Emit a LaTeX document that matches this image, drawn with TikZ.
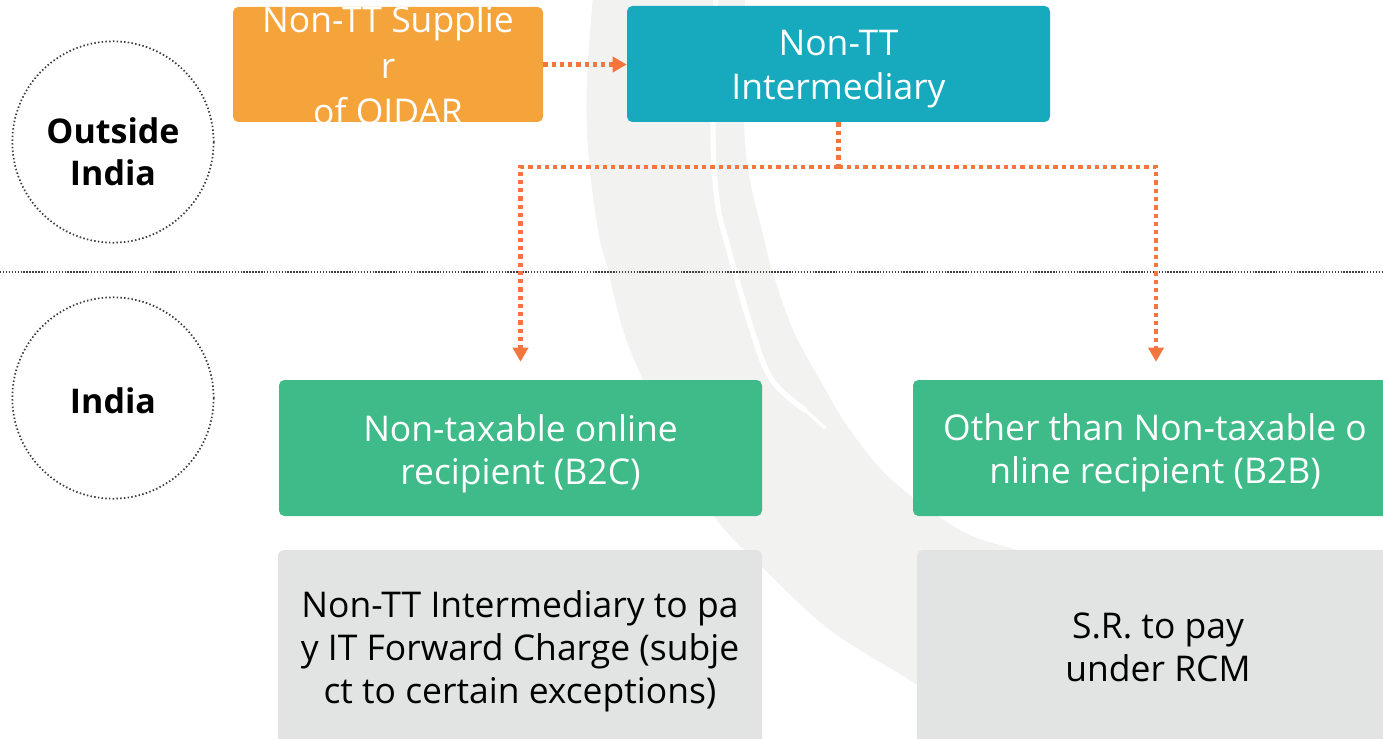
\documentclass[tikz,border=0pt]{standalone}
\usepackage{fontspec}
\setmainfont{Open Sans}
\usetikzlibrary{arrows.meta,calc,fit}

\definecolor{supplierorange}{HTML}{F4A43A}
\definecolor{interteal}{HTML}{17A9BE}
\definecolor{recipgreen}{HTML}{3FBB89}
\definecolor{notegray}{HTML}{E2E4E3}
\definecolor{flowline}{HTML}{F4763E}
\definecolor{swooshgray}{HTML}{F2F2F1}
\definecolor{ruledark}{HTML}{3C3C3C}

% centred block of lines whose baseline is the first line
\newcommand\stacklines[1]{\begin{tabular}[t]{@{}c@{}}#1\end{tabular}}

\begin{document}
\begin{tikzpicture}[x=0.75pt,y=-0.75pt,
  panel/.style={rectangle, rounded corners=4pt, inner sep=0pt, draw=none},
  paneltext/.style={inner sep=0pt, anchor=base, text=white,
    font=\fontsize{26.6pt}{32.6pt}\selectfont},
  notetext/.style={paneltext, text=black},
  region/.style={circle, minimum size=151pt, inner sep=0pt, draw=ruledark,
    line width=1.3pt, dash pattern=on 1.1pt off 1.7pt},
  regiontext/.style={inner sep=0pt, anchor=base, text=black,
    font=\fontsize{25.5pt}{32.25pt}\selectfont\bfseries},
  flow/.style={draw=flowline, line width=3.2pt, dash pattern=on 3.2pt off 3pt},
  flowtip/.style={-{Triangle[length=10.5pt,width=11.25pt]}, flowline}
]
\useasboundingbox (0,0) rectangle (1383,738);
\clip (0,0) rectangle (1383,738);

% light brush swoosh in the background
\fill[swooshgray]
  plot[smooth, tension=0.6] coordinates {(593,-5) (587,80) (588,150) (598,230)
    (608,270) (623,330) (643,380) (675,450) (717,520) (762,567) (830,630)
    (917,685) (1000,745)}
  -- (1300,745)
  -- plot[smooth, tension=0.6] coordinates {(1250,600) (1100,575) (1017,550)
    (960,530) (892,480) (850,430) (820,380) (793,330) (772,270) (762,230)
    (750,180) (744,120) (745,-5)}
  -- cycle;
\draw[white, line width=4pt, line cap=round]
  plot[smooth, tension=0.6] coordinates {(716,-5) (713,130) (717,200) (726,240)
    (752,330) (772,380) (805,410)};
\draw[white, line width=2.5pt, line cap=round] (805,410) -- (825,428);

% border between the two regions
\draw[line width=1.1pt, ruledark, dash pattern=on 1.1pt off 1.1pt] (0,272) -- (1383,272);

% region markers
\node[region] (outside) at (113,142) {};
\node[regiontext] (outside-text) at (113,143) {\stacklines{Outside\\India}};
\node[region] (india) at (113,398) {};
\node[regiontext] (india-text) at (113,413) {India};

% boxes
\node[panel, fill=supplierorange, fit={(233,7) (543,122)}] (supplier) {};
\node[panel, fill=interteal, fit={(627,6) (1050,122)}] (inter) {};
\node[panel, fill=recipgreen, fit={(279,380) (762,516)}] (b2c) {};
\node[panel, fill=recipgreen, fit={(913,380) (1396,516)}] (b2b) {};
\node[panel, fill=notegray, fit={(278,550) (762,750)}] (b2cnote) {};
\node[panel, fill=notegray, fit={(917,550) (1400,750)}] (b2bnote) {};

% texts
\begin{scope}
  \clip[rounded corners=4pt] (supplier.south west) rectangle (supplier.north east);
  \node[paneltext, font=\fontsize{26.6pt}{34.5pt}\selectfont] (supplier-text)
    at (388,33) {\stacklines{Non-TT Supplie\\r\\of OIDAR}};
\end{scope}
\node[paneltext, font=\fontsize{26.6pt}{33pt}\selectfont] (inter-text)
  at (838.5,56) {\stacklines{Non-TT\\Intermediary}};
\node[paneltext] (b2c-text) at (520.5,441)
  {\stacklines{Non-taxable online\\recipient (B2C)}};
\node[paneltext] (b2b-text) at (1155,440)
  {\stacklines{Other than Non-taxable o\\nline recipient (B2B)}};
\node[notetext] (b2cnote-text) at (520,617)
  {\stacklines{Non-TT Intermediary to pa\\y IT Forward Charge (subje\\ct to certain exceptions)}};
\node[notetext] (b2bnote-text) at (1158,638)
  {\stacklines{S.R. to pay\\under RCM}};

% connectors
\draw[flow, flowtip] (supplier.east) -- (supplier.east -| inter.west);
\coordinate (split) at ($(inter.south)+(0,45)$);
\draw[flow] (inter.south) -- (split);
\draw[flow, flowtip] (split) -| ($(b2c.north)+(0,-18)$);
\draw[flow, flowtip] (split) -| ($(b2b.north)+(1.5,-18)$);
\end{tikzpicture}
\end{document}
